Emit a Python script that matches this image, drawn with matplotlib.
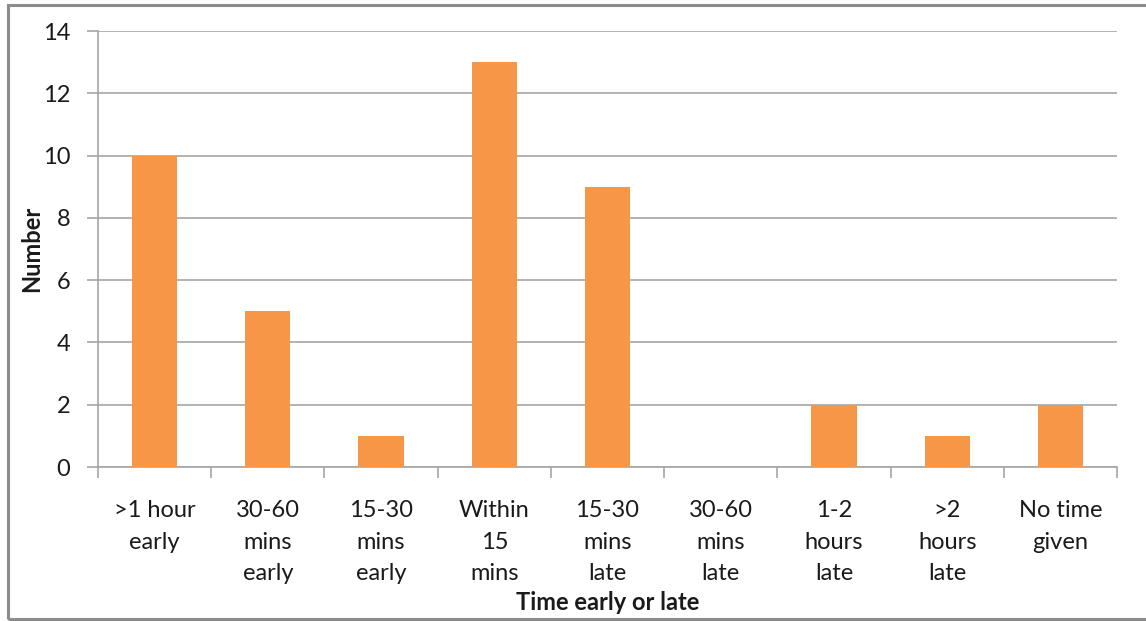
import matplotlib.pyplot as plt
from matplotlib.patches import Rectangle
import numpy as np

categories = [
    ">1 hour\nearly",
    "30-60\nmins\nearly",
    "15-30\nmins\nearly",
    "Within\n15\nmins",
    "15-30\nmins\nlate",
    "30-60\nmins\nlate",
    "1-2\nhours\nlate",
    ">2\nhours\nlate",
    "No time\ngiven",
]
counts = [10, 5, 1, 13, 9, 0, 2, 1, 2]
y_ticks = [0, 2, 4, 6, 8, 10, 12, 14]

BAR_COLOR = "#F79646"
GRID_COLOR = "#A6A6A6"
TEXT_COLOR = "#1A1A1A"

plt.rcParams["font.family"] = ["Lato", "DejaVu Sans"]

W, H = 1146, 621
fig = plt.figure(figsize=(W / 100, H / 100), dpi=100)
ax = fig.add_axes([98 / W, (H - 467) / H, (1117 - 98) / W, (467 - 31) / H])

x = np.arange(len(categories))
ax.bar(x, counts, width=0.4, color=BAR_COLOR, zorder=3)

ax.set_xlim(-0.5, len(categories) - 0.5)
ax.set_ylim(0, 14)
ax.set_yticks(y_ticks)
ax.set_yticklabels([str(v) for v in y_ticks], fontsize=17, color=TEXT_COLOR)
ax.yaxis.grid(True, color=GRID_COLOR, linewidth=1.2, zorder=0)

# category labels sit between boundary ticks
ax.set_xticks(x)
ax.set_xticklabels(categories, fontsize=17, color=TEXT_COLOR, linespacing=1.62,
                   va="top")
ax.tick_params(axis="x", length=0, pad=24)
ax.set_xticks(np.arange(len(categories) + 1) - 0.5, minor=True)
ax.tick_params(axis="x", which="minor", length=8, width=1.2, color=GRID_COLOR)
ax.tick_params(axis="y", length=8, width=1.2, color=GRID_COLOR, pad=12)

for side in ["top", "right"]:
    ax.spines[side].set_visible(False)
for side in ["left", "bottom"]:
    ax.spines[side].set_color(GRID_COLOR)
    ax.spines[side].set_linewidth(1.2)

ax.set_ylabel("Number", fontsize=17, fontweight="bold", color=TEXT_COLOR,
              labelpad=0)
fig.text((98 + 1117) / 2 / W, (H - 603) / H, "Time early or late",
         fontsize=17, fontweight="bold", color=TEXT_COLOR,
         ha="center", va="center")

# outer chart frame
fig.patches.append(Rectangle((8 / W, 2 / H), 1.2, (H - 7) / H,
                             transform=fig.transFigure, fill=False,
                             edgecolor="#8C8C8C", linewidth=2.2))

fig.savefig("out.png", dpi=100)
